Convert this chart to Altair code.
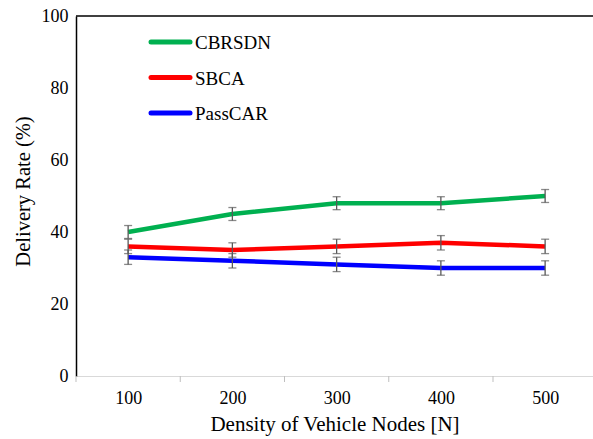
import altair as alt
import pandas as pd

# Vehicle node densities (x categories)
nodes = [100, 200, 300, 400, 500]

# Delivery rate (%) per scheme, with error half-widths
cbrsdn = [40, 45, 48, 48, 50]
cbrsdn_err = [1.8, 1.8, 1.8, 1.8, 1.8]
sbca = [36, 35, 36, 37, 36]
sbca_err = [2, 2, 2, 2, 2]
passcar = [33, 32, 31, 30, 30]
passcar_err = [2, 2, 2, 2, 2]

series_names = ["CBRSDN", "SBCA", "PassCAR"]
series_colors = ["#00B050", "#FF0000", "#0000FF"]

# Category boundaries where the x-axis ticks sit
boundaries = [50, 150, 250, 350, 450]

W, H = 517, 360
FONT = "Liberation Serif"

rows = []
for name, vals, errs in zip(series_names, [cbrsdn, sbca, passcar],
                            [cbrsdn_err, sbca_err, passcar_err]):
    for n, v, e in zip(nodes, vals, errs):
        rows.append({"nodes": n, "rate": v, "lo": v - e, "hi": v + e, "series": name})
df = pd.DataFrame(rows)

x_scale = alt.Scale(domain=[50, 50 + W / 1.0425], nice=False, zero=False)
y_scale = alt.Scale(domain=[0, 100], nice=False)
color_scale = alt.Scale(domain=series_names, range=series_colors)

x_enc = alt.X(
    "nodes:Q", scale=x_scale,
    axis=alt.Axis(values=nodes, ticks=False, grid=False, labelPadding=13,
                  domainColor="#d9d9d9", domainWidth=1,
                  title="Density of Vehicle Nodes [N]", titlePadding=6,
                  labelFontSize=18, titleFontSize=21,
                  labelColor="#000000", titleColor="#000000", titleFontWeight="normal"),
)
y_enc = alt.Y(
    "rate:Q", scale=y_scale,
    axis=alt.Axis(values=[0, 20, 40, 60, 80, 100], ticks=False, grid=False,
                  labelPadding=8, domainColor="#000000", domainWidth=1.5,
                  title="Delivery Rate (%)", titlePadding=8, titleY=175,
                  labelFontSize=18, titleFontSize=20.5,
                  labelColor="#000000", titleColor="#000000", titleFontWeight="normal"),
)

base = alt.Chart(df)

lines = base.mark_line(strokeWidth=4.5, strokeJoin="round").encode(
    x=x_enc, y=y_enc,
    color=alt.Color("series:N", scale=color_scale, legend=None),
    order=alt.Order("nodes:Q"),
)

err_rules = base.mark_rule(color="#595959", strokeWidth=1.3).encode(
    x=alt.X("nodes:Q", scale=x_scale),
    y=alt.Y("lo:Q", scale=y_scale),
    y2="hi:Q",
)
cap_lo = base.mark_tick(orient="horizontal", color="#595959", size=8, thickness=1.3).encode(
    x=alt.X("nodes:Q", scale=x_scale), y=alt.Y("lo:Q", scale=y_scale),
)
cap_hi = base.mark_tick(orient="horizontal", color="#595959", size=8, thickness=1.3).encode(
    x=alt.X("nodes:Q", scale=x_scale), y=alt.Y("hi:Q", scale=y_scale),
)

# Small ticks below the x axis between categories
tick_df = pd.DataFrame({"b": boundaries})
bound_ticks = alt.Chart(tick_df).mark_rule(color="#bfbfbf", strokeWidth=1).encode(
    x=alt.X("b:Q", scale=x_scale),
    y=alt.value(H),
    y2=alt.value(H + 6),
)

# Frame line along the top of the plot
top_line = alt.Chart(pd.DataFrame({"k": [0]})).mark_rule(color="#000000", strokeWidth=1.5).encode(
    x=alt.value(0), x2=alt.value(W), y=alt.value(0),
)

# Legend drawn inside the plot area
legend_layers = []
for i, (name, color) in enumerate(zip(series_names, series_colors)):
    ly = 26 + i * 35.5
    ld = pd.DataFrame({"series": [name]})
    legend_layers.append(
        alt.Chart(ld).mark_rule(color=color, strokeWidth=5, strokeCap="round").encode(
            x=alt.value(75), x2=alt.value(114), y=alt.value(ly)
        )
    )
    legend_layers.append(
        alt.Chart(ld).mark_text(align="left", baseline="middle", fontSize=19,
                                color="#000000", dy=1).encode(
            x=alt.value(119), y=alt.value(ly), text="series:N"
        )
    )

chart = alt.layer(
    lines, err_rules, cap_lo, cap_hi, bound_ticks, top_line, *legend_layers
).properties(
    width=W, height=H,
    autosize=alt.AutoSizeParams(type="none"),
    padding={"left": 76, "top": 16, "right": 0, "bottom": 63},
    background="#ffffff",
).configure(
    font=FONT,
).configure_axis(
    labelFont=FONT, titleFont=FONT,
).configure_text(
    font=FONT,
).configure_view(stroke=None)

chart.save("out.html", embed_options={"renderer": "svg", "actions": False})
